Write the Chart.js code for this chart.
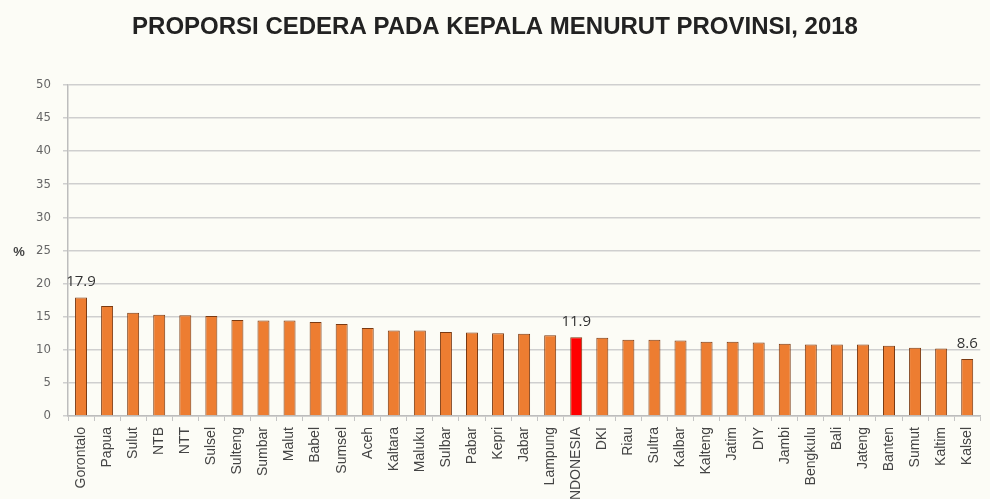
<!DOCTYPE html>
<html>
<head>
<meta charset="utf-8">
<script src="https://cdn.jsdelivr.net/npm/chart.js@4.4.1/dist/chart.umd.min.js"></script>
<style>
  html, body { margin: 0; padding: 0; background: #fcfcf6; }
  #wrap { width: 990px; height: 499px; }
</style>
</head>
<body>
<div id="wrap"><canvas id="myChart" width="990" height="499"></canvas></div>
<script>
// Proporsi cedera pada kepala menurut provinsi, 2018 (%)

const provinces = ['Gorontalo', 'Papua', 'Sulut', 'NTB', 'NTT', 'Sulsel', 'Sulteng', 'Sumbar', 'Malut',
    'Babel', 'Sumsel', 'Aceh', 'Kaltara', 'Maluku', 'Sulbar', 'Pabar', 'Kepri', 'Jabar', 'Lampung',
    'INDONESIA', 'DKI', 'Riau', 'Sultra', 'Kalbar', 'Kalteng', 'Jatim', 'DIY', 'Jambi', 'Bengkulu',
    'Bali', 'Jateng', 'Banten', 'Sumut', 'Kaltim', 'Kalsel'];

const percent = [17.9, 16.6, 15.6, 15.3, 15.2, 15.1, 14.5, 14.4, 14.4,
    14.2, 13.9, 13.3, 12.9, 12.9, 12.7, 12.6, 12.5, 12.4, 12.2,
    11.9, 11.8, 11.5, 11.5, 11.4, 11.2, 11.2, 11.1, 10.9, 10.8,
    10.8, 10.8, 10.6, 10.3, 10.2, 8.6];

const yTicks = [0, 5, 10, 15, 20, 25, 30, 35, 40, 45, 50];

const labelledBars = ['Gorontalo', 'INDONESIA', 'Kalsel'];   // value shown above these

const barColors = provinces.map(p => p === 'INDONESIA' ? '#ff0000' : '#ed7d31');

// page background
const bgPlugin = {
    id: 'bg',
    beforeDraw(chart) {
        const c = chart.ctx;
        c.save();
        c.fillStyle = '#fcfcf6';
        c.fillRect(0, 0, chart.width, chart.height);
        c.restore();
    }
};

// value labels and the "%" axis mark
const extrasPlugin = {
    id: 'extras',
    afterDatasetsDraw(chart) {
        const c = chart.ctx;
        const meta = chart.getDatasetMeta(0);
        c.save();
        c.font = '15px "Open Sans", "DejaVu Sans", sans-serif';
        c.fillStyle = '#333';
        c.textAlign = 'center';
        c.textBaseline = 'bottom';
        labelledBars.forEach(name => {
            const i = provinces.indexOf(name);
            const bar = meta.data[i];
            c.fillText(percent[i].toFixed(1), bar.x, bar.y - 8);
        });

        const area = chart.chartArea;
        c.font = 'bold 13px "Liberation Sans", Arial, sans-serif';
        c.fillStyle = '#444';
        c.textAlign = 'center';
        c.textBaseline = 'middle';
        c.fillText('%', 19, (area.top + area.bottom) / 2 + 2);
        c.restore();
    }
};

const ctx = document.getElementById('myChart');

const myChart = new Chart(ctx, {
    type: 'bar',
    data: {
        labels: provinces,
        datasets: [{
            data: percent,
            backgroundColor: barColors,
            borderColor: '#7a3a12',
            borderWidth: 1,
            barPercentage: 0.46,
            categoryPercentage: 1
        }]
    },
    options: {
        responsive: false,
        animation: false,
        layout: {
            padding: { top: 0, right: 0, bottom: 0, left: 0 }
        },
        scales: {
            x: {
                grid: {
                    drawOnChartArea: false,
                    drawTicks: true,
                    tickLength: 5,
                    color: '#c4c4c4'
                },
                border: { color: '#bdbdbd', width: 1.5 },
                ticks: {
                    autoSkip: false,
                    minRotation: 90,
                    maxRotation: 90,
                    padding: 6,
                    color: '#444',
                    font: { family: '"Liberation Sans", Arial, sans-serif', size: 14 }
                },
                afterFit(scale) { scale.height = 83; }
            },
            y: {
                min: 0,
                max: 50,
                afterBuildTicks(scale) { scale.ticks = yTicks.map(v => ({ value: v })); },
                grid: {
                    color: '#cfcfcf',
                    lineWidth: 1.5,
                    tickLength: 5
                },
                border: { color: '#bdbdbd', width: 1.5 },
                ticks: {
                    padding: 12,
                    color: '#666',
                    font: { family: '"Liberation Sans Narrow", "DejaVu Sans Condensed", sans-serif', size: 13 }
                },
                afterFit(scale) { scale.width = 68; }
            }
        },
        plugins: {
            legend: { display: false },
            tooltip: { enabled: false },
            title: {
                display: true,
                text: 'PROPORSI CEDERA PADA KEPALA MENURUT PROVINSI, 2018',
                color: '#222',
                font: { family: '"Liberation Sans", Arial, sans-serif', size: 24, weight: 'bold' },
                padding: { top: 13, bottom: 43 }
            }
        }
    },
    plugins: [bgPlugin, extrasPlugin]
});
</script>
</body>
</html>
